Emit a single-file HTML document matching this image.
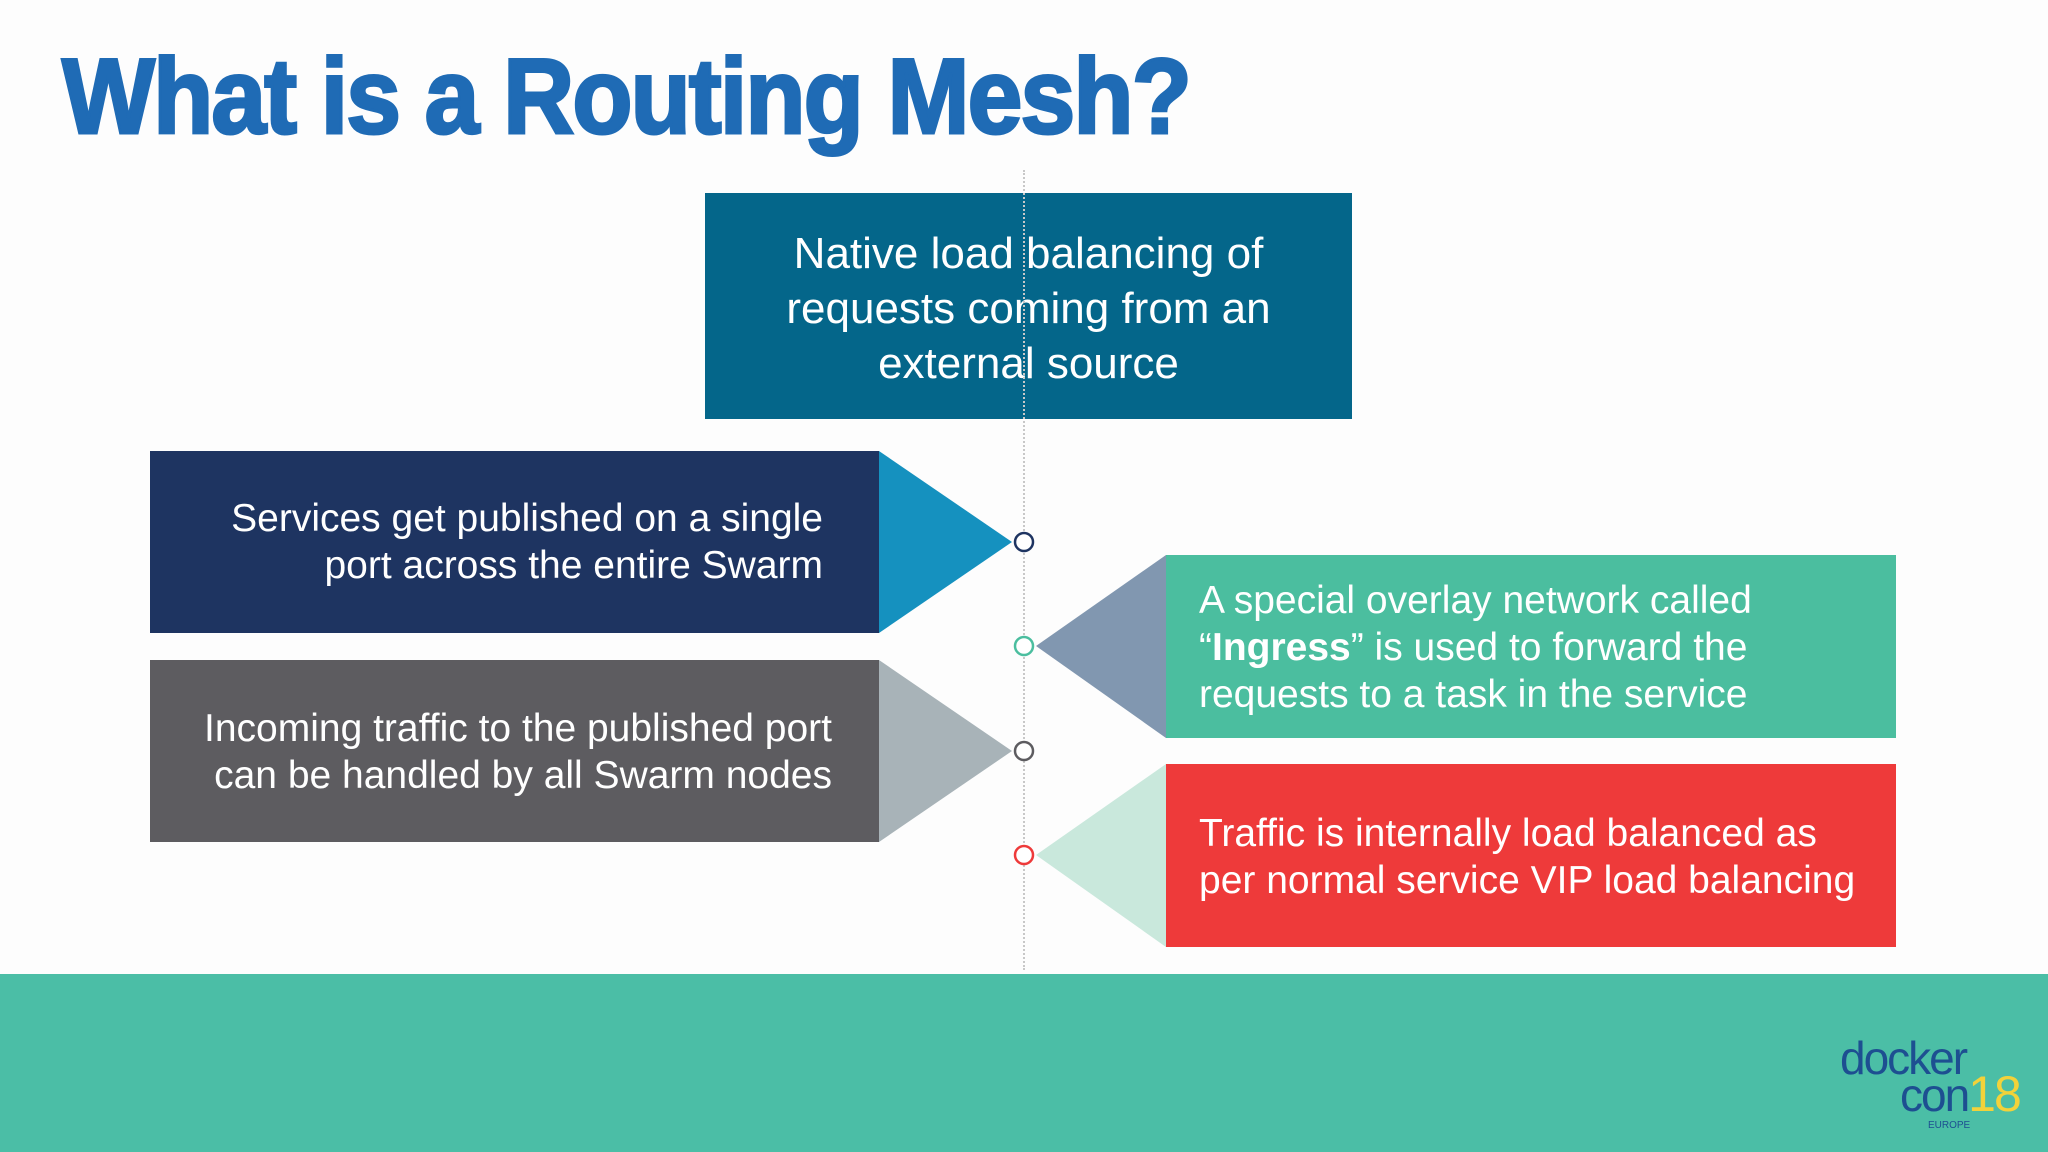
<!DOCTYPE html>
<html><head><style>
body{margin:0;width:2048px;height:1152px;background:#fdfdfd;position:relative;overflow:hidden;font-family:"Liberation Sans",sans-serif}
.a{position:absolute}
.t{color:#fff;font-size:39px;line-height:47px}
</style></head><body>
<div class="a" style="left:62px;top:34px;font-family:'Liberation Sans Narrow','Liberation Sans',sans-serif;font-weight:bold;font-size:107px;color:#1f6bb5;letter-spacing:-2px;transform:scaleX(0.92);transform-origin:left top;white-space:nowrap;-webkit-text-stroke:3px #1f6bb5">What is a Routing Mesh?</div>
<div class="a" style="left:705px;top:193px;width:647px;height:226px;background:#04668a"></div>
<div class="a t" style="left:705px;top:226px;width:647px;text-align:center;font-size:44px;line-height:55px">Native load balancing of<br>requests coming from an<br>external source</div>
<div class="a" style="left:1023px;top:170px;height:800px;border-left:2px dotted #c8c8c8"></div>
<div class="a" style="left:150px;top:451px;width:729px;height:182px;background:#1e3461"></div>
<div class="a t" style="left:150px;top:495px;width:673px;text-align:right">Services get published on a single<br>port across the entire Swarm</div>
<div class="a" style="left:150px;top:660px;width:729px;height:182px;background:#5d5c60"></div>
<div class="a t" style="left:150px;top:705px;width:682px;text-align:right">Incoming traffic to the published port<br>can be handled by all Swarm nodes</div>
<div class="a" style="left:1166px;top:555px;width:730px;height:183px;background:#4bbe9f"></div>
<div class="a t" style="left:1199px;top:577px">A special overlay network called<br>“<b>Ingress</b>” is used to forward the<br>requests to a task in the service</div>
<div class="a" style="left:1166px;top:764px;width:730px;height:183px;background:#ee3a3a"></div>
<div class="a t" style="left:1199px;top:810px">Traffic is internally load balanced as<br>per normal service VIP load balancing</div>
<svg class="a" style="left:0;top:0" width="2048" height="1152">
<polygon points="879,451 879,633 1012,542" fill="#1591bf"/>
<polygon points="879,660 879,842 1012,751" fill="#a8b3b8"/>
<polygon points="1166,555 1166,738 1036,646" fill="#8197b0"/>
<polygon points="1166,764 1166,947 1036,855" fill="#c9e8dc"/>
<circle cx="1024" cy="542" r="9" fill="#fff" stroke="#1e3461" stroke-width="2.5"/>
<circle cx="1024" cy="646" r="9" fill="#fff" stroke="#4bbe9f" stroke-width="2.5"/>
<circle cx="1024" cy="751" r="9" fill="#fff" stroke="#5d5c60" stroke-width="2.5"/>
<circle cx="1024" cy="855" r="9" fill="#fff" stroke="#ee3a3a" stroke-width="2.5"/>
</svg>
<div class="a" style="left:0;top:974px;width:2048px;height:178px;background:#4bbea6"></div>
<div class="a" style="left:1840px;top:1040px;font-size:46px;line-height:36px;color:#1d4f91;letter-spacing:-2px">docker<br><span style="margin-left:60px">con</span><span style="color:#f2d23a;font-size:50px">18</span></div>
<div class="a" style="left:1928px;top:1120px;font-size:10px;color:#1d4f91">EUROPE</div>
</body></html>
